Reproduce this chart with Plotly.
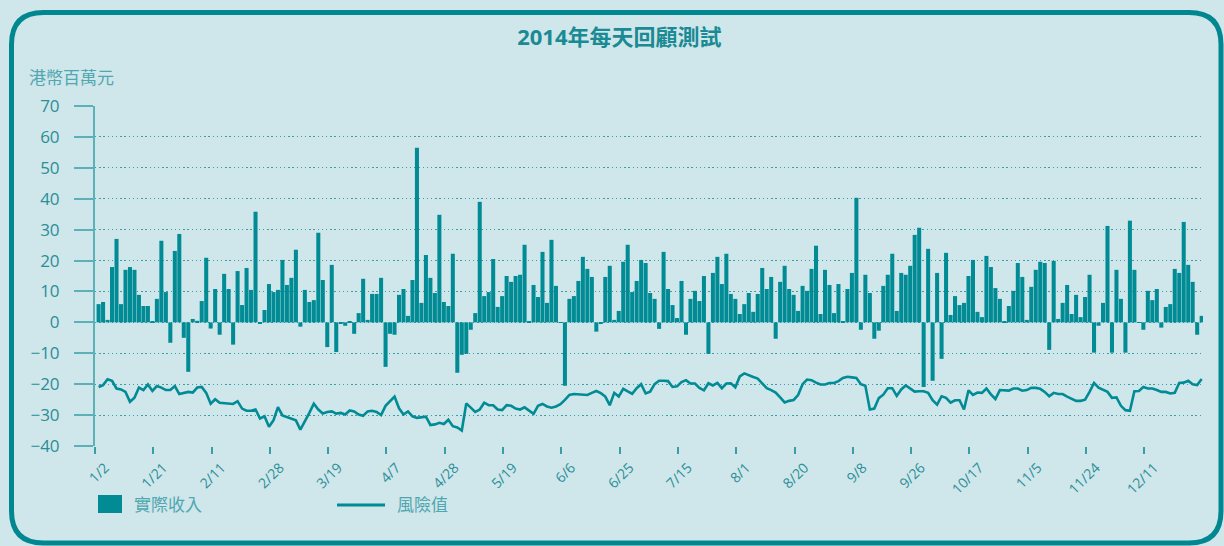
import pandas as pd
import plotly.graph_objects as go

# Hong Kong exchange holidays falling on weekdays in 2014
hk_holidays = [
    "2014-01-01", "2014-01-31", "2014-02-03", "2014-04-18", "2014-04-21",
    "2014-05-01", "2014-05-06", "2014-06-02", "2014-07-01", "2014-09-09",
    "2014-10-01", "2014-10-02", "2014-12-25", "2014-12-26",
]

tick_labels = ["1/2", "1/21", "2/11", "2/28", "3/19", "4/7", "4/28", "5/19", "6/6",
               "6/25", "7/15", "8/1", "8/20", "9/8", "9/26", "10/17", "11/5",
               "11/24", "12/11"]

# daily actual revenue (HK$ million)
actual_revenue = [
    5.9, 6.6, 0.8, 17.9, 27.0, 5.9, 17.0, 17.9, 17.0, 8.9,
    5.3, 5.3, 0.3, 7.6, 26.4, 9.8, -6.6, 23.1, 28.6, -5.0,
    -16.0, 1.1, 0.5, 6.9, 20.9, -2.0, 10.8, -4.0, 15.7, 10.8,
    -7.2, 16.6, 5.6, 17.6, 10.5, 35.8, -0.4, 4.0, 12.4, 9.8,
    10.5, 20.2, 12.1, 14.4, 23.5, -1.4, 10.5, 6.6, 7.2, 29.0,
    13.7, -8.0, 18.6, -9.6, -0.4, -1.1, 0.4, -3.7, 3.0, 14.1,
    0.8, 9.2, 9.2, 14.4, -14.4, -3.7, -4.0, 8.9, 10.8, 2.1,
    13.7, 56.5, 6.3, 21.8, 14.4, 9.5, 34.8, 6.6, 5.3, 22.2,
    -16.3, -10.5, -10.2, -2.4, 3.0, 39.0, 8.5, 9.8, 20.5, 5.0,
    8.5, 15.0, 13.1, 15.0, 15.4, 25.1, 0.2, 12.1, 8.2, 22.8,
    6.3, 26.7, 11.8, -0.2, -20.5, 7.6, 8.5, 13.4, 21.2, 17.3,
    14.7, -3.0, -0.3, 14.7, 18.3, 0.8, 3.7, 19.6, 25.1, 9.8,
    13.4, 20.2, 19.2, 9.5, 7.6, -2.1, 22.8, 10.8, 5.6, 1.4,
    13.4, -4.0, 7.6, 10.2, 6.9, 15.0, -10.2, 16.0, 21.2, 12.4,
    22.2, 9.2, 7.6, 2.7, 5.9, 9.5, 3.4, 9.2, 17.6, 10.8,
    14.7, -5.3, 13.1, 18.3, 10.8, 8.9, 3.7, 11.8, 10.2, 17.3,
    24.8, 2.7, 17.0, 12.1, 3.0, 12.4, 0.4, 10.8, 16.0, 40.3,
    -2.4, 15.4, 9.5, -5.3, -2.7, 11.8, 15.4, 22.2, 3.7, 16.0,
    15.4, 18.3, 28.3, 30.6, -20.9, 23.8, -18.9, 16.0, -11.8, 22.5,
    2.4, 8.5, 5.6, 6.3, 15.0, 20.2, 3.4, 1.7, 21.5, 17.9,
    11.1, 7.6, 0.2, 5.3, 10.2, 19.2, 14.7, 0.8, 11.5, 17.0,
    19.6, 19.2, -8.9, 19.9, 1.1, 6.3, 12.1, 2.7, 8.9, 1.7,
    8.2, 15.4, -9.8, -1.1, 6.3, 31.2, -9.8, 17.0, 7.6, -9.8,
    32.9, 17.0, 0.1, -2.4, 10.2, 7.2, 10.8, -1.7, 5.0, 5.9,
    17.3, 16.0, 32.5, 18.6, 13.1, -4.0, 2.1,
]

# daily value at risk (HK$ million)
value_at_risk = [
    -20.9, -20.3, -18.4, -18.9, -21.4, -21.7, -22.5, -25.7, -24.4, -21.1,
    -21.9, -20.1, -22.2, -20.6, -21.1, -21.9, -21.9, -20.6, -23.2, -22.8,
    -22.5, -22.7, -21.1, -20.9, -22.8, -26.3, -24.9, -26.0, -26.2, -26.2,
    -26.4, -25.5, -27.9, -28.6, -28.6, -28.2, -31.1, -30.4, -33.8, -31.7,
    -27.4, -30.1, -30.6, -31.1, -31.7, -34.7, -32.2, -29.3, -26.3, -28.2,
    -29.5, -29.0, -28.8, -29.5, -29.3, -29.8, -28.5, -28.8, -29.8, -30.2,
    -28.8, -28.6, -29.0, -30.0, -27.0, -25.5, -24.0, -27.8, -29.8, -28.8,
    -30.4, -30.9, -30.8, -30.5, -33.2, -33.0, -32.5, -32.9, -31.5, -33.6,
    -34.0, -35.0, -26.2, -27.6, -29.0, -28.2, -26.0, -26.8, -26.8, -28.2,
    -28.4, -26.8, -27.0, -27.9, -28.2, -27.5, -28.5, -29.6, -27.0, -26.4,
    -27.2, -27.6, -27.2, -26.5, -25.1, -23.5, -23.2, -23.3, -23.5, -23.5,
    -22.8, -22.2, -22.9, -24.0, -26.8, -22.8, -24.0, -21.5, -22.3, -23.1,
    -21.3, -20.0, -23.0, -22.4, -20.0, -18.9, -18.9, -19.0, -20.9, -20.7,
    -19.3, -18.7, -19.8, -19.8, -21.2, -22.0, -19.7, -20.4, -19.6, -21.3,
    -19.8, -19.7, -21.0, -17.5, -16.5, -17.2, -17.7, -18.2, -19.6, -21.3,
    -21.9, -22.7, -24.3, -25.9, -25.4, -25.1, -23.5, -20.0, -18.5, -18.7,
    -19.5, -20.1, -20.1, -19.6, -19.6, -19.0, -18.0, -17.6, -17.8, -18.0,
    -20.0, -20.5, -28.2, -27.9, -24.5, -23.4, -21.3, -21.3, -23.8, -21.7,
    -20.4, -21.5, -22.4, -22.3, -22.3, -22.8, -25.2, -26.6, -23.9, -24.4,
    -26.0, -25.2, -25.2, -28.2, -22.0, -23.5, -22.7, -22.8, -21.4, -23.3,
    -24.8, -21.9, -22.1, -22.1, -21.4, -21.4, -22.1, -21.9, -21.2, -21.2,
    -21.5, -22.5, -23.9, -22.8, -23.2, -23.2, -24.0, -24.6, -25.4, -25.4,
    -25.0, -22.5, -19.6, -21.1, -21.9, -22.5, -24.4, -24.3, -27.0, -28.4,
    -28.6, -22.3, -22.2, -20.9, -21.4, -21.4, -21.9, -22.5, -22.5, -23.0,
    -22.8, -19.6, -19.5, -18.9, -20.0, -20.3, -18.3,
]

series_names = ["實際收入", "風險值"]

trading_days = [d for d in pd.bdate_range("2014-01-02", "2014-12-31")
                if d.strftime("%Y-%m-%d") not in hk_holidays]
assert len(trading_days) == len(actual_revenue) == len(value_at_risk)

day_labels = [f"{d.month}/{d.day}" for d in trading_days]
idx = list(range(len(trading_days)))
tick_pos = [day_labels.index(t) - 0.8 for t in tick_labels]

TEAL = "#008b95"
BORDER = "#00878f"
BG = "#cfe6ea"
GRID = "#3a9ea7"
AXIS = "#5cb0b8"
TICKTXT = "#2a8e98"
SOFT = "#4fa7b0"
FONT = "Open Sans, Noto Sans CJK TC, sans-serif"

fig = go.Figure()
fig.add_trace(go.Bar(
    x=idx, y=actual_revenue, width=0.9, name=series_names[0],
    marker=dict(color=TEAL, line=dict(width=0)),
    hovertext=day_labels, showlegend=False,
))
fig.add_trace(go.Scatter(
    x=idx, y=value_at_risk, mode="lines", name=series_names[1],
    line=dict(color=TEAL, width=2.6),
    hovertext=day_labels, showlegend=False,
))

# plot area in pixels: x 95..1203, y 106..446
ML, MR, MT, MB = 95, 21, 106, 100
W, H = 1224, 546
PW, PH = W - ML - MR, H - MT - MB


def px(x):
    return (x - ML) / PW


def py(y):
    return (H - MB - y) / PH


# rounded frame around the whole panel
L, R, T, B, r = 11.5, 1221, 12.5, 543, 32
frame = (
    f"M{px(L + r)},{py(T)} L{px(R - r)},{py(T)} "
    f"Q{px(R)},{py(T)} {px(R)},{py(T + r)} "
    f"L{px(R)},{py(B - r)} Q{px(R)},{py(B)} {px(R - r)},{py(B)} "
    f"L{px(L + r)},{py(B)} Q{px(L)},{py(B)} {px(L)},{py(B - r)} "
    f"L{px(L)},{py(T + r)} Q{px(L)},{py(T)} {px(L + r)},{py(T)} Z"
)

# legend drawn below the plot: a filled swatch for the bars, a stroke for the line
legend_shapes = [
    dict(type="rect", xref="paper", yref="paper",
         x0=px(98), x1=px(122), y0=py(513), y1=py(495),
         fillcolor=TEAL, line=dict(width=0)),
    dict(type="line", xref="paper", yref="paper",
         x0=px(337), x1=px(385), y0=py(505), y1=py(505),
         line=dict(color=TEAL, width=3)),
]
legend_texts = [
    dict(text=series_names[0], xref="paper", yref="paper", x=px(132), y=py(504),
         xanchor="left", yanchor="middle", showarrow=False,
         font=dict(size=17, color=SOFT, family=FONT)),
    dict(text=series_names[1], xref="paper", yref="paper", x=px(395), y=py(504),
         xanchor="left", yanchor="middle", showarrow=False,
         font=dict(size=17, color=SOFT, family=FONT)),
]

xrange_ = [-0.8, len(idx) - 0.7]

fig.update_layout(
    width=W, height=H,
    margin=dict(l=ML, r=MR, t=MT, b=MB),
    paper_bgcolor=BG, plot_bgcolor=BG,
    font=dict(family=FONT, color=TICKTXT),
    title=dict(text="<b>2014年每天回顧測試</b>", x=0.506, xref="container",
               xanchor="center", y=1 - 37 / H, yanchor="middle",
               font=dict(size=22, color="#1a8a94", family=FONT)),
    showlegend=False,
    xaxis=dict(range=xrange_, tickmode="array", tickvals=tick_pos, ticktext=tick_labels,
               tickangle=-45, ticks="outside", ticklen=7, tickwidth=1.5, tickcolor=GRID,
               ticklabelshift=10, ticklabelstandoff=0,
               showgrid=False, zeroline=False, showline=False,
               tickfont=dict(size=14, color=TICKTXT)),
    xaxis2=dict(range=xrange_, overlaying="x", anchor="y", side="bottom",
                tickmode="array", tickvals=tick_pos, ticks="inside", ticklen=6,
                tickwidth=1.5, tickcolor=GRID, showticklabels=False,
                showgrid=False, zeroline=False, showline=False),
    yaxis=dict(range=[-40, 70], dtick=10, tick0=0, showgrid=True, gridcolor=GRID,
               gridwidth=1.4, griddash="1.4px,2.8px", zeroline=False,
               showline=True, linecolor=AXIS, linewidth=2,
               ticks="outside", ticklen=19, tickwidth=2, tickcolor=AXIS,
               ticklabelstandoff=11, tickfont=dict(size=17, color=TICKTXT)),
    shapes=[dict(type="path", xref="paper", yref="paper", path=frame,
                 line=dict(color=BORDER, width=5), fillcolor="rgba(0,0,0,0)",
                 layer="above")] + legend_shapes,
    annotations=[dict(text="港幣百萬元", xref="paper", yref="paper",
                      x=px(27), y=py(77), xanchor="left", yanchor="middle",
                      showarrow=False, font=dict(size=17, color=SOFT, family=FONT))]
                + legend_texts,
)

fig.write_html("out.html")
